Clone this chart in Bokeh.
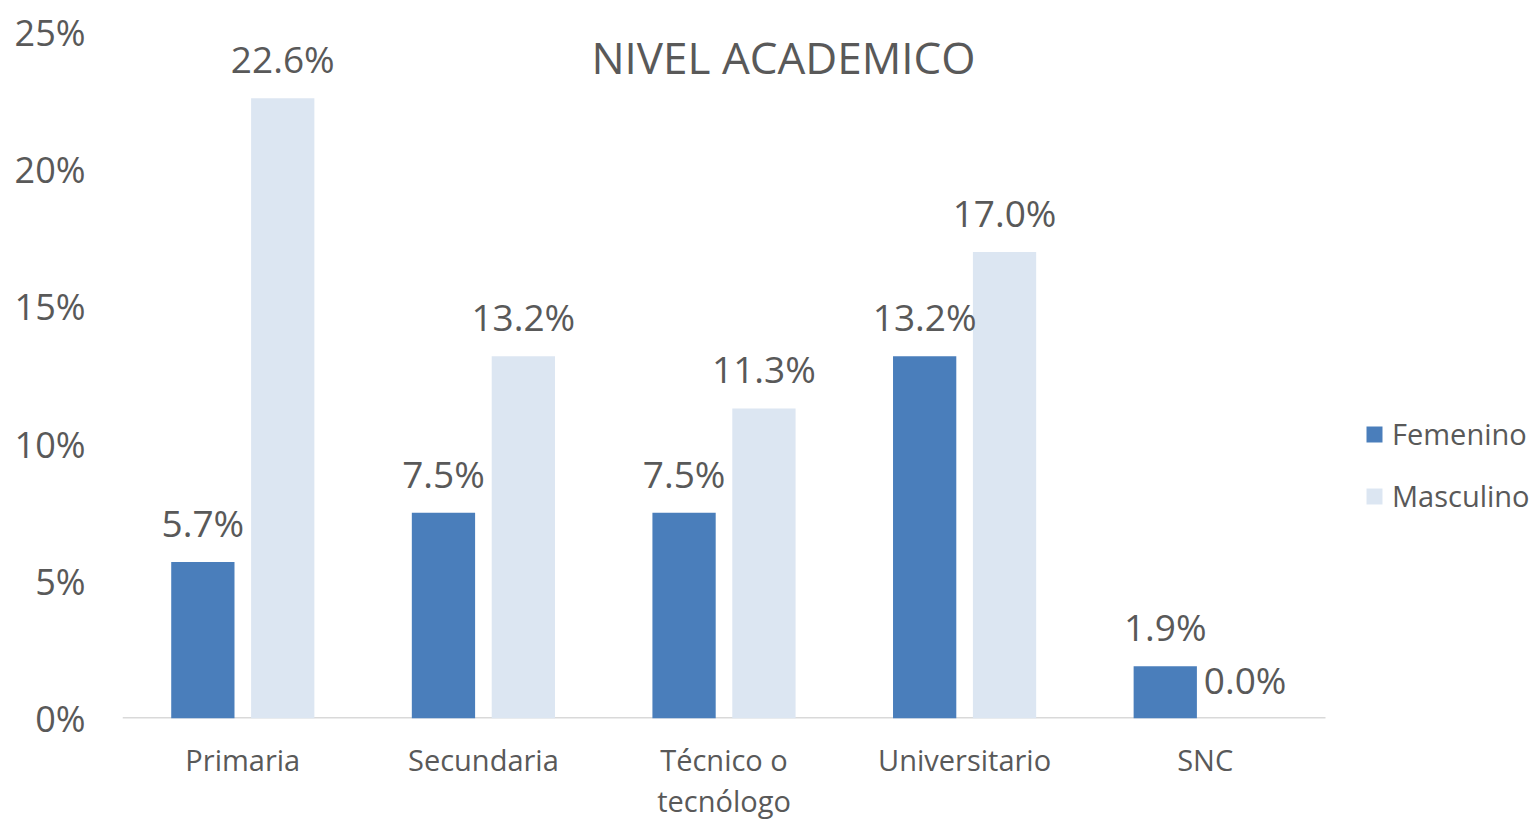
from bokeh.plotting import figure
from bokeh.models import (ColumnDataSource, FixedTicker, PrintfTickFormatter,
                          LabelSet, Label, Legend, LegendItem, Range1d)
from bokeh.core.properties import value
from bokeh.embed import file_html
from bokeh.resources import INLINE

categories = ["Primaria", "Secundaria", "Técnico o\ntecnólogo", "Universitario", "SNC"]
femenino = [5.7, 7.5, 7.5, 13.2, 1.9]
masculino = [22.6, 13.2, 11.3, 17.0, 0.0]
y_ticks = [0, 5, 10, 15, 20, 25]
title_text = "NIVEL ACADEMICO"
series_names = ["Femenino", "Masculino"]

FONT = "Open Sans"
TXT = "#595959"
C_FEM = "#4A7EBB"
C_MAS = "#DCE6F2"

n = len(categories)
centers = [i + 0.5 for i in range(n)]
off = 0.166
bw = 0.263

src = ColumnDataSource(dict(
    xc=centers,
    xf=[c - off for c in centers],
    xm=[c + off for c in centers],
    fem=femenino,
    mas=masculino,
    fem_lbl=[f"{v:.1f}%" for v in femenino],
    mas_lbl=[f"{v:.1f}%" for v in masculino],
))

W, H = 1540, 823
LEFT, TOP, BOTTOM = 122, 32, 103
cat_px = 240.6
x_end = (W - LEFT) / cat_px

p = figure(x_range=Range1d(0, x_end), y_range=Range1d(0, 25),
           width=W, height=H, output_backend="svg", toolbar_location=None,
           min_border_left=LEFT, min_border_right=0, min_border_top=TOP, min_border_bottom=BOTTOM)
p.outline_line_color = None
p.xgrid.grid_line_color = None
p.ygrid.grid_line_color = None
p.background_fill_color = "white"
p.border_fill_color = "white"

# baseline (category axis line spans only the categories)
p.segment(x0=[0], y0=[0], x1=[n], y1=[0], line_color="#D9D9D9", line_width=3)

r1 = p.vbar(x="xf", top="fem", width=bw, source=src, fill_color=C_FEM, line_color=None)
r2 = p.vbar(x="xm", top="mas", width=bw, source=src, fill_color=C_MAS, line_color=None)

for xcol, col, lbl in (("xf", "fem", "fem_lbl"), ("xm", "mas", "mas_lbl")):
    ls = LabelSet(x=xcol, y=col, text=lbl, source=src,
                  text_align="center", text_baseline="alphabetic", y_offset=25,
                  text_font=value(FONT), text_font_size=value("37px"), text_color=value(TXT))
    p.add_layout(ls)

# axes
p.yaxis.ticker = FixedTicker(ticks=y_ticks)
p.yaxis.formatter = PrintfTickFormatter(format="%d%%")
p.yaxis.axis_line_color = None
p.yaxis.major_tick_line_color = None
p.yaxis.minor_tick_line_color = None
p.yaxis.major_tick_out = 0
p.yaxis.major_label_standoff = 37
p.yaxis.major_label_text_font = FONT
p.yaxis.major_label_text_font_size = "36px"
p.yaxis.major_label_text_color = TXT

p.xaxis.ticker = FixedTicker(ticks=centers)
p.xaxis.major_label_overrides = {c: lab for c, lab in zip(centers, categories)}
p.xaxis.axis_line_color = None
p.xaxis.major_tick_line_color = None
p.xaxis.minor_tick_line_color = None
p.xaxis.major_tick_out = 0
p.xaxis.major_label_standoff = 21
p.xaxis.major_label_text_font = FONT
p.xaxis.major_label_text_font_size = "29px"
p.xaxis.major_label_text_color = TXT
p.xaxis.major_label_text_line_height = 1.07

# title
p.add_layout(Label(x=2.747, y=24.1, text=title_text, text_align="center", text_baseline="middle",
                   text_font=FONT, text_font_size="44px", text_color=TXT))

legend = Legend(items=[LegendItem(label=series_names[0], renderers=[r1]),
                       LegendItem(label=series_names[1], renderers=[r2])],
                location=(1242, 203), orientation="vertical",
                glyph_width=20, glyph_height=20, label_height=20, spacing=23,
                label_standoff=8, padding=5, margin=0,
                label_text_font=FONT, label_text_font_size="29px", label_text_color=TXT,
                border_line_color=None, background_fill_alpha=0)
p.add_layout(legend, "center")

open("out.html", "w").write(file_html(p, INLINE))
